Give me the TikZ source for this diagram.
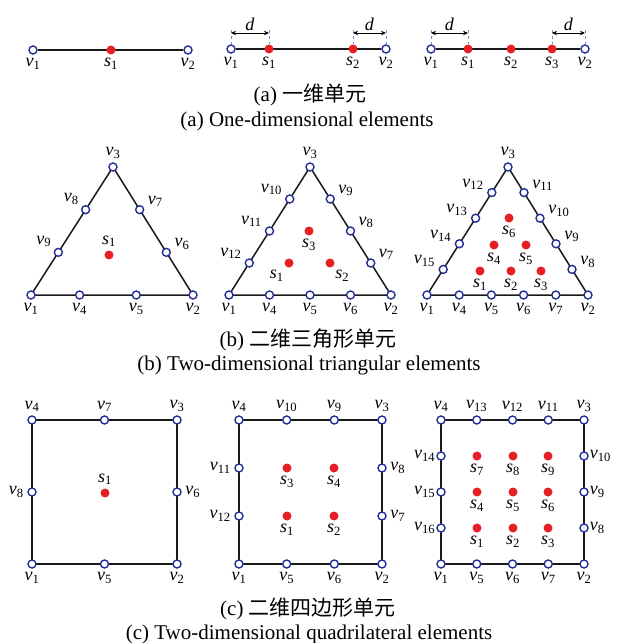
\documentclass[tikz,border=0pt]{standalone}
\usepackage{fontspec}
\setmainfont{Liberation Serif}
\newfontfamily\cjk{Noto Sans CJK SC}
\usetikzlibrary{arrows.meta,calc,backgrounds}
\definecolor{vblue}{RGB}{35,45,150}
\definecolor{sred}{RGB}{228,32,36}
\definecolor{guideblue}{RGB}{110,140,205}
\newcommand{\vlab}[1]{\textit{v}\textsubscript{#1}}
\newcommand{\slab}[1]{\textit{s}\textsubscript{#1}}
\tikzset{
  >={Stealth[length=5pt,width=4.5pt]},
  x=1pt,y=-1pt,
  vx/.style={circle,draw=vblue,fill=white,line width=1.4pt,minimum size=8pt,
    inner sep=0pt},
  sp/.style={circle,fill=sred,minimum size=9pt,inner sep=0pt},
  elemline/.style={line width=1.5pt,black!90},
  lab/.style={font=\fontsize{18}{20}\selectfont,inner sep=1pt},
  every label/.style={lab},
  label distance=2.5pt,
  caption/.style={font=\fontsize{21}{23}\selectfont,inner sep=1pt},
  dimarr/.style={<->,line width=0.8pt},
  guide/.style={dashed,draw=guideblue,line width=0.6pt},
}
\begin{document}
\begin{tikzpicture}
\useasboundingbox (0,0) rectangle (618,643);

% (a) one-dimensional elements
\node[vx,label=below:\vlab{1}] (l1v1) at (33,50) {};
\node[sp,label=below:\slab{1}] (l1s1) at (111,50) {};
\node[vx,label=below:\vlab{2}] (l1v2) at (188,50) {};

\node[vx,label=below:\vlab{1}] (l2v1) at (231,49) {};
\node[sp,label=below:\slab{1}] (l2s1) at (269,49) {};
\node[sp,label=below:\slab{2}] (l2s2) at (353,49) {};
\node[vx,label=below:\vlab{2}] (l2v2) at (386,49) {};

\node[vx,label=below:\vlab{1}] (l3v1) at (431,49) {};
\node[sp,label=below:\slab{1}] (l3s1) at (468,49) {};
\node[sp,label=below:\slab{2}] (l3s2) at (511,49) {};
\node[sp,label=below:\slab{3}] (l3s3) at (552,49) {};
\node[vx,label=below:\vlab{2}] (l3v2) at (585,49) {};

% spacing d
\foreach \n/\a/\b in {l2a/l2v1/l2s1,l2b/l2s2/l2v2,l3a/l3v1/l3s1,l3b/l3s3/l3v2}{
  \coordinate (\n1) at ($(\a)+(0,-16)$);
  \coordinate (\n2) at ($(\b)+(0,-16)$);
  \coordinate (\n3) at ($(\a)+(0,-19)$);
  \coordinate (\n4) at ($(\b)+(0,-19)$);
  \draw[guide] (\n3) -- (\a);
  \draw[guide] (\n4) -- (\b);
  \draw[dimarr] (\n1) -- node[lab,above=1pt] (\n d) {\textit{d}} (\n2);
}

\node[caption] (capa1) at (310,95) {(a) {\cjk 一维单元}};
\node[caption] (capa2) at (307,121) {(a) One-dimensional elements};

% (b) triangular elements
\node[vx,label=below:\vlab{1}] (t1v1) at (31,295) {};
\node[vx,label=below:\vlab{2}] (t1v2) at (193,295) {};
\node[vx,label=above:\vlab{3}] (t1v3) at (113,167) {};
\foreach \k/\t in {4/0.3,5/0.65}
  \node[vx,label=below:\vlab{\k}] (t1v\k) at ($(t1v1)!\t!(t1v2)$) {};
\foreach \k/\t in {6/1,7/2}
  \node[vx,label={12:\vlab{\k}}] (t1v\k) at ($(t1v2)!\t/3!(t1v3)$) {};
\foreach \k/\t in {8/1,9/2}
  \node[vx,label={145:\vlab{\k}}] (t1v\k) at ($(t1v3)!\t/3!(t1v1)$) {};
\node[sp,label=above:\slab{1}] (t1s1) at (109,255) {};

\node[vx,label=below:\vlab{1}] (t2v1) at (229,295) {};
\node[vx,label=below:\vlab{2}] (t2v2) at (391,295) {};
\node[vx,label=above:\vlab{3}] (t2v3) at (310,167) {};
\foreach \k/\t in {4/1,5/2,6/3}
  \node[vx,label=below:\vlab{\k}] (t2v\k) at ($(t2v1)!\t/4!(t2v2)$) {};
\foreach \k/\t in {7/1,8/2,9/3}
  \node[vx,label={15:\vlab{\k}}] (t2v\k) at ($(t2v2)!\t/4!(t2v3)$) {};
\foreach \k/\t in {10/1,11/2,12/3}
  \node[vx,label={155:\vlab{\k}}] (t2v\k) at ($(t2v3)!\t/4!(t2v1)$) {};
\node[sp,label={235:\slab{1}}] (t2s1) at (289,263) {};
\node[sp,label={-55:\slab{2}}] (t2s2) at (330,263) {};
\node[sp,label=below:\slab{3}] (t2s3) at (309,231) {};

\node[vx,label=below:\vlab{1}] (t3v1) at (427,295) {};
\node[vx,label=below:\vlab{2}] (t3v2) at (588,295) {};
\node[vx,label=above:\vlab{3}] (t3v3) at (508,167) {};
\foreach \k/\t in {4/1,5/2,6/3,7/4}
  \node[vx,label=below:\vlab{\k}] (t3v\k) at ($(t3v1)!\t/5!(t3v2)$) {};
\foreach \k/\t in {8/1,9/2,10/3,11/4}
  \node[vx,label={5:\vlab{\k}}] (t3v\k) at ($(t3v2)!\t/5!(t3v3)$) {};
\foreach \k/\t in {12/1,13/2,14/3,15/4}
  \node[vx,label={168:\vlab{\k}}] (t3v\k) at ($(t3v3)!\t/5!(t3v1)$) {};
\foreach \k/\x/\y in {1/480/271,2/511/271,3/541/271,4/494/245,5/526/245,6/509/218}
  \node[sp,label=below:\slab{\k}] (t3s\k) at (\x,\y) {};

\node[caption] (capb1) at (308,340) {(b) {\cjk 二维三角形单元}};
\node[caption] (capb2) at (309,365) {(b) Two-dimensional triangular elements};

% (c) quadrilateral elements
\node[vx,label=below:\vlab{1}] (q1v1) at (32,564) {};
\node[vx,label=below:\vlab{2}] (q1v2) at (177,564) {};
\node[vx,label=above:\vlab{3}] (q1v3) at (177,420) {};
\node[vx,label=above:\vlab{4}] (q1v4) at (32,420) {};
\node[vx,label=below:\vlab{5}] (q1v5) at ($(q1v1)!0.5!(q1v2)$) {};
\node[vx,label=right:\vlab{6}] (q1v6) at ($(q1v2)!0.5!(q1v3)$) {};
\node[vx,label=above:\vlab{7}] (q1v7) at ($(q1v3)!0.5!(q1v4)$) {};
\node[vx,label=left:\vlab{8}] (q1v8) at ($(q1v4)!0.5!(q1v1)$) {};
\node[sp,label=above:\slab{1}] (q1s1) at (105,493) {};

\node[vx,label=below:\vlab{1}] (q2v1) at (239,564) {};
\node[vx,label=below:\vlab{2}] (q2v2) at (382,564) {};
\node[vx,label=above:\vlab{3}] (q2v3) at (382,420) {};
\node[vx,label=above:\vlab{4}] (q2v4) at (239,420) {};
\foreach \k/\t in {5/1,6/2}
  \node[vx,label=below:\vlab{\k}] (q2v\k) at ($(q2v1)!\t/3!(q2v2)$) {};
\foreach \k/\t in {7/1,8/2}
  \node[vx,label=right:\vlab{\k}] (q2v\k) at ($(q2v2)!\t/3!(q2v3)$) {};
\foreach \k/\t in {9/1,10/2}
  \node[vx,label=above:\vlab{\k}] (q2v\k) at ($(q2v3)!\t/3!(q2v4)$) {};
\foreach \k/\t in {11/1,12/2}
  \node[vx,label=left:\vlab{\k}] (q2v\k) at ($(q2v4)!\t/3!(q2v1)$) {};
\foreach \k/\x/\y in {1/287/516,2/334/516,3/287/468,4/334/468}
  \node[sp,label=below:\slab{\k}] (q2s\k) at (\x,\y) {};

\node[vx,label=below:\vlab{1}] (q3v1) at (441,564) {};
\node[vx,label=below:\vlab{2}] (q3v2) at (584,564) {};
\node[vx,label=above:\vlab{3}] (q3v3) at (584,420) {};
\node[vx,label=above:\vlab{4}] (q3v4) at (441,420) {};
\foreach \k/\t in {5/1,6/2,7/3}
  \node[vx,label=below:\vlab{\k}] (q3v\k) at ($(q3v1)!\t/4!(q3v2)$) {};
\foreach \k/\t in {8/1,9/2,10/3}
  \node[vx,label={[label distance=0pt]right:\vlab{\k}}] (q3v\k) at ($(q3v2)!\t/4!(q3v3)$) {};
\foreach \k/\t in {11/1,12/2,13/3}
  \node[vx,label=above:\vlab{\k}] (q3v\k) at ($(q3v3)!\t/4!(q3v4)$) {};
\foreach \k/\t in {14/1,15/2,16/3}
  \node[vx,label={[label distance=0pt]left:\vlab{\k}}] (q3v\k) at ($(q3v4)!\t/4!(q3v1)$) {};
\foreach \k/\x/\y in {1/477/528,2/513/528,3/548/528,4/477/492,5/513/492,
    6/548/492,7/477/456,8/513/456,9/548/456}
  \node[sp,label=below:\slab{\k}] (q3s\k) at (\x,\y) {};

\node[caption] (capc1) at (308,609) {(c) {\cjk 二维四边形单元}};
\node[caption] (capc2) at (309,634) {(c) Two-dimensional quadrilateral elements};

\begin{scope}[on background layer]
  \draw[elemline] (l1v1) -- (l1v2);
  \draw[elemline] (l2v1) -- (l2v2);
  \draw[elemline] (l3v1) -- (l3v2);
  \foreach \e in {t1,t2,t3}
    \draw[elemline] (\e v1.center) -- (\e v2.center) -- (\e v3.center) -- cycle;
  \foreach \e in {q1,q2,q3}
    \draw[elemline] (\e v1.center) -- (\e v2.center) -- (\e v3.center)
      -- (\e v4.center) -- cycle;
\end{scope}
\end{tikzpicture}
\end{document}
